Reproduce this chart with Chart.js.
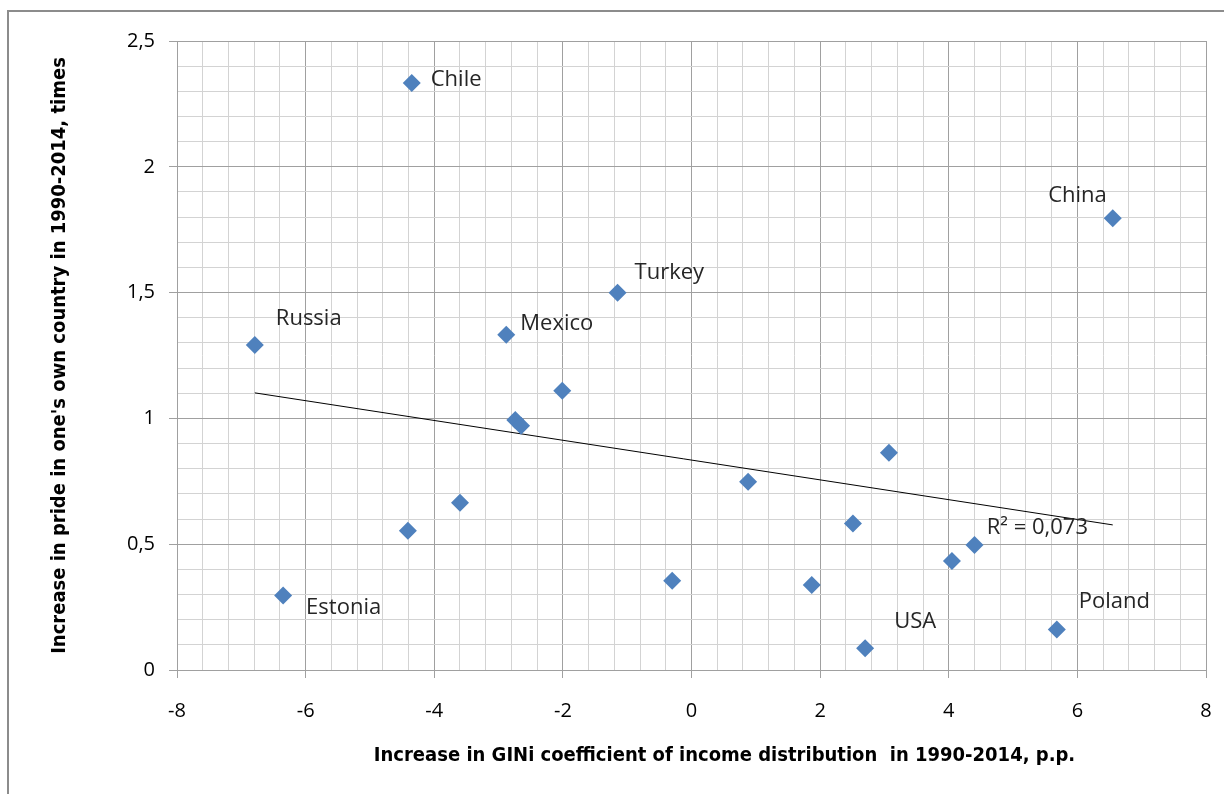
<!DOCTYPE html>
<html>
<head>
<meta charset="utf-8">
<script src="https://cdn.jsdelivr.net/npm/chart.js@4.4.1/dist/chart.umd.min.js"></script>
<style>
    html, body { margin: 0; padding: 0; background: #fff; }
    #wrap { width: 1224px; height: 794px; position: relative; }
</style>
</head>
<body>
<div id="wrap"><canvas id="chart"></canvas></div>
<script>
// data
const countries = ["Chile", "China", "Turkey", "Mexico", "Russia", "", "", "", "", "", "", "", "", "", "", "", "", "Estonia", "USA", "Poland"];
const giniIncrease = [-4.35, 6.55, -1.15, -2.88, -6.79, -2.01, -2.74, -2.65, 3.07, 0.88, -3.60, -4.41, 2.51, 4.40, 4.05, -0.30, 1.87, -6.35, 2.70, 5.68];
const prideIncrease = [2.333, 1.796, 1.499, 1.332, 1.292, 1.110, 0.994, 0.971, 0.863, 0.748, 0.665, 0.553, 0.582, 0.497, 0.433, 0.355, 0.338, 0.296, 0.086, 0.161];

const xTicks = [-8, -6, -4, -2, 0, 2, 4, 6, 8];
const xTickLabels = ["-8", "-6", "-4", "-2", "0", "2", "4", "6", "8"];
const yTicks = [0, 0.5, 1, 1.5, 2, 2.5];
const yTickLabels = ["0", "0,5", "1", "1,5", "2", "2,5"];
const xMinorPerMajor = 5;
const yMinorPerMajor = 5;

const xTitle = "Increase in GINi coefficient of income distribution  in 1990-2014, p.p.";
const yTitle = "Increase in pride in one's own country in 1990-2014, times";
const rSquaredLabel = "R² = 0,073";

// label placement (px from the point): dx, dy, align
const labelOffsets = {
    Chile: [19, -3, "left"],
    China: [-6, -22, "right"],
    Turkey: [17, -20, "left"],
    Mexico: [14, -11, "left"],
    Russia: [21, -26, "left"],
    Estonia: [23, 12, "left"],
    USA: [29, -27, "left"],
    Poland: [22, -28, "left"]
};

const MINOR = "#d3d3d3";
const MAJOR = "#a0a0a0";
const BLUE = "#4f81bd";
const LABEL_FONT = "22px 'Open Sans', sans-serif";
const TITLE_FONT = "bold 20px 'Liberation Sans Narrow', 'DejaVu Sans Condensed', sans-serif";

// linear trendline (least squares)
const n = giniIncrease.length;
const mx = giniIncrease.reduce((a, b) => a + b, 0) / n;
const my = prideIncrease.reduce((a, b) => a + b, 0) / n;
let sxy = 0, sxx = 0;
giniIncrease.forEach((x, i) => { sxy += (x - mx) * (prideIncrease[i] - my); sxx += (x - mx) * (x - mx); });
const slope = sxy / sxx;
const intercept = my - slope * mx;
const xMin = Math.min(...giniIncrease), xMax = Math.max(...giniIncrease);
const trend = [xMin, xMax].map(x => ({ x, y: intercept + slope * x }));

const points = giniIncrease.map((x, i) => ({ x, y: prideIncrease[i] }));

const buildTicks = (majors, perMajor) => {
    const out = [];
    for (let i = 0; i < majors.length - 1; i++) {
        const step = (majors[i + 1] - majors[i]) / perMajor;
        for (let k = 0; k < perMajor; k++) {
            out.push({ value: Math.round((majors[i] + k * step) * 1e6) / 1e6, major: k === 0 });
        }
    }
    out.push({ value: majors[majors.length - 1], major: true });
    return out;
};

const gridColor = (ctx) => (ctx.tick && ctx.tick.major ? MAJOR : MINOR);
const tickColor = (ctx) => (ctx.tick && ctx.tick.major ? MAJOR : "rgba(0,0,0,0)");

const decorations = {
    id: "decorations",
    beforeDraw(chart) {
        const c = chart.ctx;
        c.save();
        c.strokeStyle = "#8c8c8c";
        c.lineWidth = 2;
        c.beginPath();
        c.moveTo(8, chart.height);
        c.lineTo(8, 11);
        c.lineTo(chart.width, 11);
        c.stroke();
        c.restore();
    },
    afterDraw(chart) {
        const c = chart.ctx;
        const area = chart.chartArea;
        const meta = chart.getDatasetMeta(0);
        c.save();
        c.fillStyle = "#262626";
        c.font = LABEL_FONT;
        c.textBaseline = "middle";
        meta.data.forEach((el, i) => {
            const name = countries[i];
            if (!name) return;
            const [dx, dy, align] = labelOffsets[name];
            c.textAlign = align;
            c.fillText(name, el.x + dx, el.y + dy);
        });

        // R² next to the end of the trendline
        const tMeta = chart.getDatasetMeta(1);
        const end = tMeta.data[1];
        c.textAlign = "left";
        c.fillText(rSquaredLabel, end.x - 126, end.y + 3);

        // axis titles
        c.fillStyle = "#000";
        c.font = TITLE_FONT;
        c.textAlign = "center";
        c.fillText(xTitle, (area.left + area.right) / 2 + 33, area.bottom + 86);
        c.translate(60, (area.top + area.bottom) / 2);
        c.rotate(-Math.PI / 2);
        c.fillText(yTitle, 0, 0);
        c.restore();
    }
};

new Chart(document.getElementById("chart"), {
    type: "scatter",
    data: {
        datasets: [
            {
                data: points,
                pointStyle: "rectRot",
                pointRadius: 9,
                pointHoverRadius: 9,
                backgroundColor: BLUE,
                borderColor: BLUE,
                borderWidth: 0
            },
            {
                data: trend,
                showLine: true,
                borderColor: "#000",
                borderWidth: 1,
                pointRadius: 0,
                pointHoverRadius: 0
            }
        ]
    },
    options: {
        responsive: true,
        maintainAspectRatio: false,
        animation: false,
        layout: { padding: { top: 41, right: 18, bottom: 0, left: 0 } },
        plugins: { legend: { display: false }, tooltip: { enabled: false } },
        scales: {
            x: {
                type: "linear",
                min: xTicks[0],
                max: xTicks[xTicks.length - 1],
                afterBuildTicks: (s) => { s.ticks = buildTicks(xTicks, xMinorPerMajor); },
                afterFit: (s) => { s.height = 124; s.paddingLeft = 0; s.paddingRight = 0; },
                grid: { color: gridColor, tickColor: tickColor, tickLength: 8, lineWidth: 1 },
                border: { color: MAJOR },
                ticks: {
                    autoSkip: false,
                    maxRotation: 0,
                    padding: 21,
                    color: "#000",
                    font: { family: "'Open Sans', sans-serif", size: 20 },
                    callback: (v) => {
                        const i = xTicks.findIndex(t => Math.abs(t - v) < 1e-6);
                        return i >= 0 ? xTickLabels[i] : "";
                    }
                }
            },
            y: {
                type: "linear",
                min: yTicks[0],
                max: yTicks[yTicks.length - 1],
                afterBuildTicks: (s) => { s.ticks = buildTicks(yTicks, yMinorPerMajor); },
                afterFit: (s) => { s.width = 177; s.paddingTop = 0; s.paddingBottom = 0; },
                grid: { color: gridColor, tickColor: tickColor, tickLength: 8, lineWidth: 1 },
                border: { color: MAJOR },
                ticks: {
                    autoSkip: false,
                    padding: 14,
                    color: "#000",
                    font: { family: "'Open Sans', sans-serif", size: 20 },
                    callback: (v) => {
                        const i = yTicks.findIndex(t => Math.abs(t - v) < 1e-6);
                        return i >= 0 ? yTickLabels[i] : "";
                    }
                }
            }
        }
    },
    plugins: [decorations]
});
</script>
</body>
</html>
